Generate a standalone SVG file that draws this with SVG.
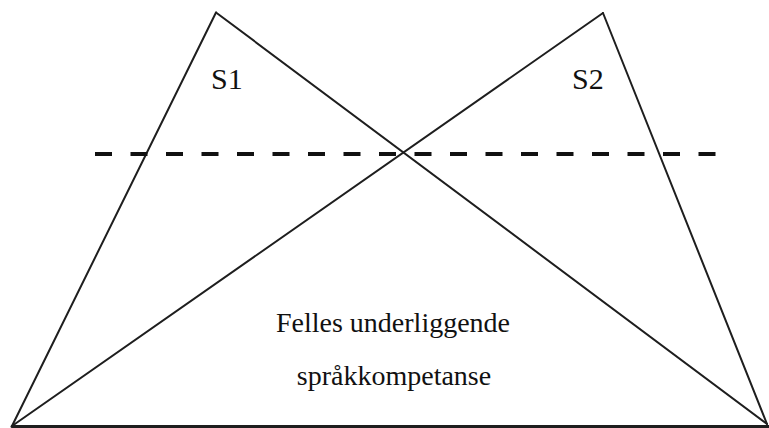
<svg xmlns="http://www.w3.org/2000/svg" width="769" height="428" viewBox="0 0 769 428">
  <style>
    .edge { stroke: #1e1e1e; stroke-width: 2; fill: none; stroke-linecap: round; }
    .dash { stroke: #111; stroke-width: 4; stroke-dasharray: 17 18.5; fill: none; }
    .label { font-family: "Liberation Serif", "Times New Roman", serif; fill: #111; }
  </style>
  <rect width="769" height="428" fill="#ffffff"/>
  <g id="connectors">
    <!-- S1 triangle -->
    <line class="edge" x1="216" y1="12.5" x2="12" y2="426"/>
    <line class="edge" x1="216" y1="12.5" x2="767" y2="424"/>
    <!-- S2 triangle -->
    <line class="edge" x1="603" y1="13" x2="12" y2="426"/>
    <line class="edge" x1="603" y1="13" x2="767" y2="424"/>
    <!-- shared base -->
    <line class="edge" x1="12" y1="426.5" x2="769" y2="426.5" style="stroke-width:3"/>
    <!-- surface threshold -->
    <line class="dash" x1="95" y1="154" x2="716" y2="154"/>
  </g>
  <g id="s1">
    <text class="label" x="211" y="89" font-size="30">S1</text>
  </g>
  <g id="s2">
    <text class="label" x="572" y="89" font-size="30">S2</text>
  </g>
  <g id="common">
    <text class="label" x="393" y="332" font-size="28" text-anchor="middle">Felles underliggende</text>
    <text class="label" x="394" y="385" font-size="28" text-anchor="middle">språkkompetanse</text>
  </g>
</svg>
